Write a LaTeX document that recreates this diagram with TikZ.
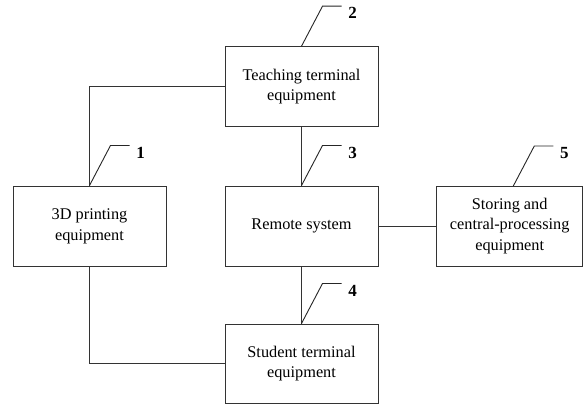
\documentclass[tikz,border=0pt]{standalone}
\usepackage{fontspec}
\setmainfont{Liberation Serif}
\usetikzlibrary{calc}
\begin{document}
\begin{tikzpicture}[x=1pt,y=-1pt,
  block/.style={draw=black!80, line width=1pt, fill=white, inner sep=0pt,
    minimum width=153pt, minimum height=80pt, align=center,
    font=\fontsize{16.3}{20.7}\selectfont},
  link/.style={draw=black!80, line width=1pt},
  leader/.style={draw=black!85, line width=0.9pt},
  tag/.style={inner sep=0pt, font=\fontsize{17}{17}\selectfont\bfseries}]
  \useasboundingbox[fill=white] (0,0) rectangle (583,404);

  % blocks
  \node[block] (b1) at (89.5,226) {3D printing\\equipment};
  \node[block] (b2) at (301.5,86.7) {Teaching terminal\\equipment};
  \node[block] (b3) at (301.5,226) {Remote system};
  \node[block, minimum height=79pt] (b4) at (301.5,363.5) {Student terminal\\equipment};
  \node[block, minimum width=146pt] (b5) at (509.7,226)
    {Storing and\\central-processing\\equipment};

  % connections
  \draw[link] (b2.west) -| (b1.north);
  \draw[link] (b1.south) |- (b4.west);
  \draw[link] (b2.south) -- (b3.north);
  \draw[link] (b3.south) -- (b4.north);
  \draw[link] (b3.east) -- (b5.west);

  % reference numerals with leader lines
  \coordinate (s5) at (513.3,186);
  \foreach \b/\s/\n in {b1/b1.north/1, b2/b2.north/2, b3/b3.north/3,
                        b4/b4.north/4, b5/s5/5}{
    \draw[leader] (\s) -- ++(21,-40) -- ++(19,0) coordinate (e\n);
    \node[tag] (t\n) at ($(e\n)+(11,7)$) {\n};
  }
\end{tikzpicture}
\end{document}
